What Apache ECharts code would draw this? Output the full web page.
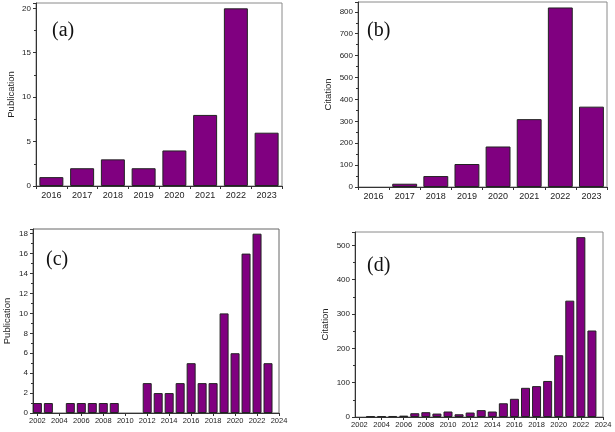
<!DOCTYPE html>
<html><head><meta charset="utf-8">
<script src="https://cdn.jsdelivr.net/npm/echarts@6/dist/echarts.min.js"></script>
<style>html,body{margin:0;padding:0;background:#fff}#c{width:615px;height:432px}</style>
</head><body><div id="c"></div>
<script>
// ---- data ----
const recentYears = ['2016','2017','2018','2019','2020','2021','2022','2023'];
const pubRecent = [1, 2, 3, 2, 4, 8, 20, 6];
const citRecent = [0, 15, 50, 105, 185, 310, 820, 367];
const allYears = [2002,2003,2004,2005,2006,2007,2008,2009,2010,2011,2012,2013,2014,2015,2016,2017,2018,2019,2020,2021,2022,2023];
const pubAll = [1,1,0,1,1,1,1,1,0,0,3,2,2,3,5,3,3,10,6,16,18,5];
const citAll = [0,2,2,3,4,11,14,10,16,8,13,20,16,40,53,85,90,105,180,339,524,252];
const yearTicks = [2002,2004,2006,2008,2010,2012,2014,2016,2018,2020,2022,2024];
const panelLabels = ['(a)','(b)','(c)','(d)'];
const yNames = ['Publication','Citation','Publication','Citation'];

const purple = '#800080';
const axisCol = '#333';
const txtCol = '#222';
const font = 'Arial, "Liberation Sans", sans-serif';
const nz = v => (v === 0 ? '-' : v);

function yAxis(gi, max, interval, name, nameGap) {
  return {
    type: 'value', gridIndex: gi, min: 0, max: max, interval: interval,
    name: name, nameLocation: 'middle', nameGap: nameGap,
    nameTextStyle: {fontFamily: font, fontSize: 9.5, color: txtCol},
    axisLine: {show: true, lineStyle: {color: axisCol, width: 1}},
    axisTick: {show: true, length: 3, lineStyle: {color: axisCol}},
    minorTick: {show: true, splitNumber: 2, length: 2, lineStyle: {color: axisCol}},
    axisLabel: {fontFamily: font, fontSize: 8, color: txtCol, margin: 5, showMaxLabel: false},
    splitLine: {show: false}, minorSplitLine: {show: false}
  };
}
function catAxis(gi) {
  return {
    type: 'category', gridIndex: gi, data: recentYears,
    axisLine: {show: true, lineStyle: {color: axisCol, width: 1}},
    axisTick: {show: true, length: 3, lineStyle: {color: axisCol}},
    axisLabel: {fontFamily: font, fontSize: 9, color: txtCol, margin: 5},
    splitLine: {show: false}
  };
}
function yearAxis(gi) {
  return {
    type: 'value', gridIndex: gi, min: 2001.6, max: 2024,
    axisLine: {show: true, lineStyle: {color: axisCol, width: 1}},
    axisTick: {show: true, length: 3, customValues: yearTicks, lineStyle: {color: axisCol}},
    axisLabel: {fontFamily: font, fontSize: 7.5, color: txtCol, margin: 4,
      customValues: yearTicks, formatter: v => String(v)},
    splitLine: {show: false}
  };
}
const barStyle = {color: purple, borderColor: '#222', borderWidth: 1};

const option = {
  animation: false,
  backgroundColor: '#fff',
  grid: [
    {left: 36, right: 333, top: 3, bottom: 246, show: true, borderColor: '#8a8a8a', borderWidth: 1, backgroundColor: 'transparent'},
    {left: 358, right: 8, top: 2, bottom: 245, show: true, borderColor: '#8a8a8a', borderWidth: 1, backgroundColor: 'transparent'},
    {left: 33, right: 336, top: 229, bottom: 19, show: true, borderColor: '#666', borderWidth: 1, backgroundColor: 'transparent'},
    {left: 355, right: 12, top: 232, bottom: 15, show: true, borderColor: '#8a8a8a', borderWidth: 1, backgroundColor: 'transparent'}
  ],
  xAxis: [catAxis(0), catAxis(1), yearAxis(2), yearAxis(3)],
  yAxis: [
    yAxis(0, 20.6, 5, yNames[0], 20),
    yAxis(1, 845, 100, yNames[1], 25),
    yAxis(2, 18.47, 2, yNames[2], 21),
    yAxis(3, 539, 100, yNames[3], 25)
  ],
  series: [
    {type: 'bar', xAxisIndex: 0, yAxisIndex: 0, data: pubRecent.map(nz), barWidth: '78%', itemStyle: barStyle},
    {type: 'bar', xAxisIndex: 1, yAxisIndex: 1, data: citRecent.map(nz), barWidth: '80%', itemStyle: barStyle},
    {type: 'bar', xAxisIndex: 2, yAxisIndex: 2, data: allYears.map((y, i) => [y, nz(pubAll[i])]), barWidth: 9, itemStyle: barStyle},
    {type: 'bar', xAxisIndex: 3, yAxisIndex: 3, data: allYears.map((y, i) => [y, nz(citAll[i])]), barWidth: 9, itemStyle: barStyle}
  ],
  graphic: [
    {type: 'text', left: 52, top: 21, style: {text: panelLabels[0], font: '20px "Liberation Serif", "Times New Roman", serif', fill: '#111'}},
    {type: 'text', left: 367, top: 21, style: {text: panelLabels[1], font: '20px "Liberation Serif", "Times New Roman", serif', fill: '#111'}},
    {type: 'text', left: 46, top: 250, style: {text: panelLabels[2], font: '20px "Liberation Serif", "Times New Roman", serif', fill: '#111'}},
    {type: 'text', left: 367, top: 256, style: {text: panelLabels[3], font: '20px "Liberation Serif", "Times New Roman", serif', fill: '#111'}}
  ]
};
const chart = echarts.init(document.getElementById('c'), null, {renderer: 'canvas'});
chart.setOption(option);
</script></body></html>
